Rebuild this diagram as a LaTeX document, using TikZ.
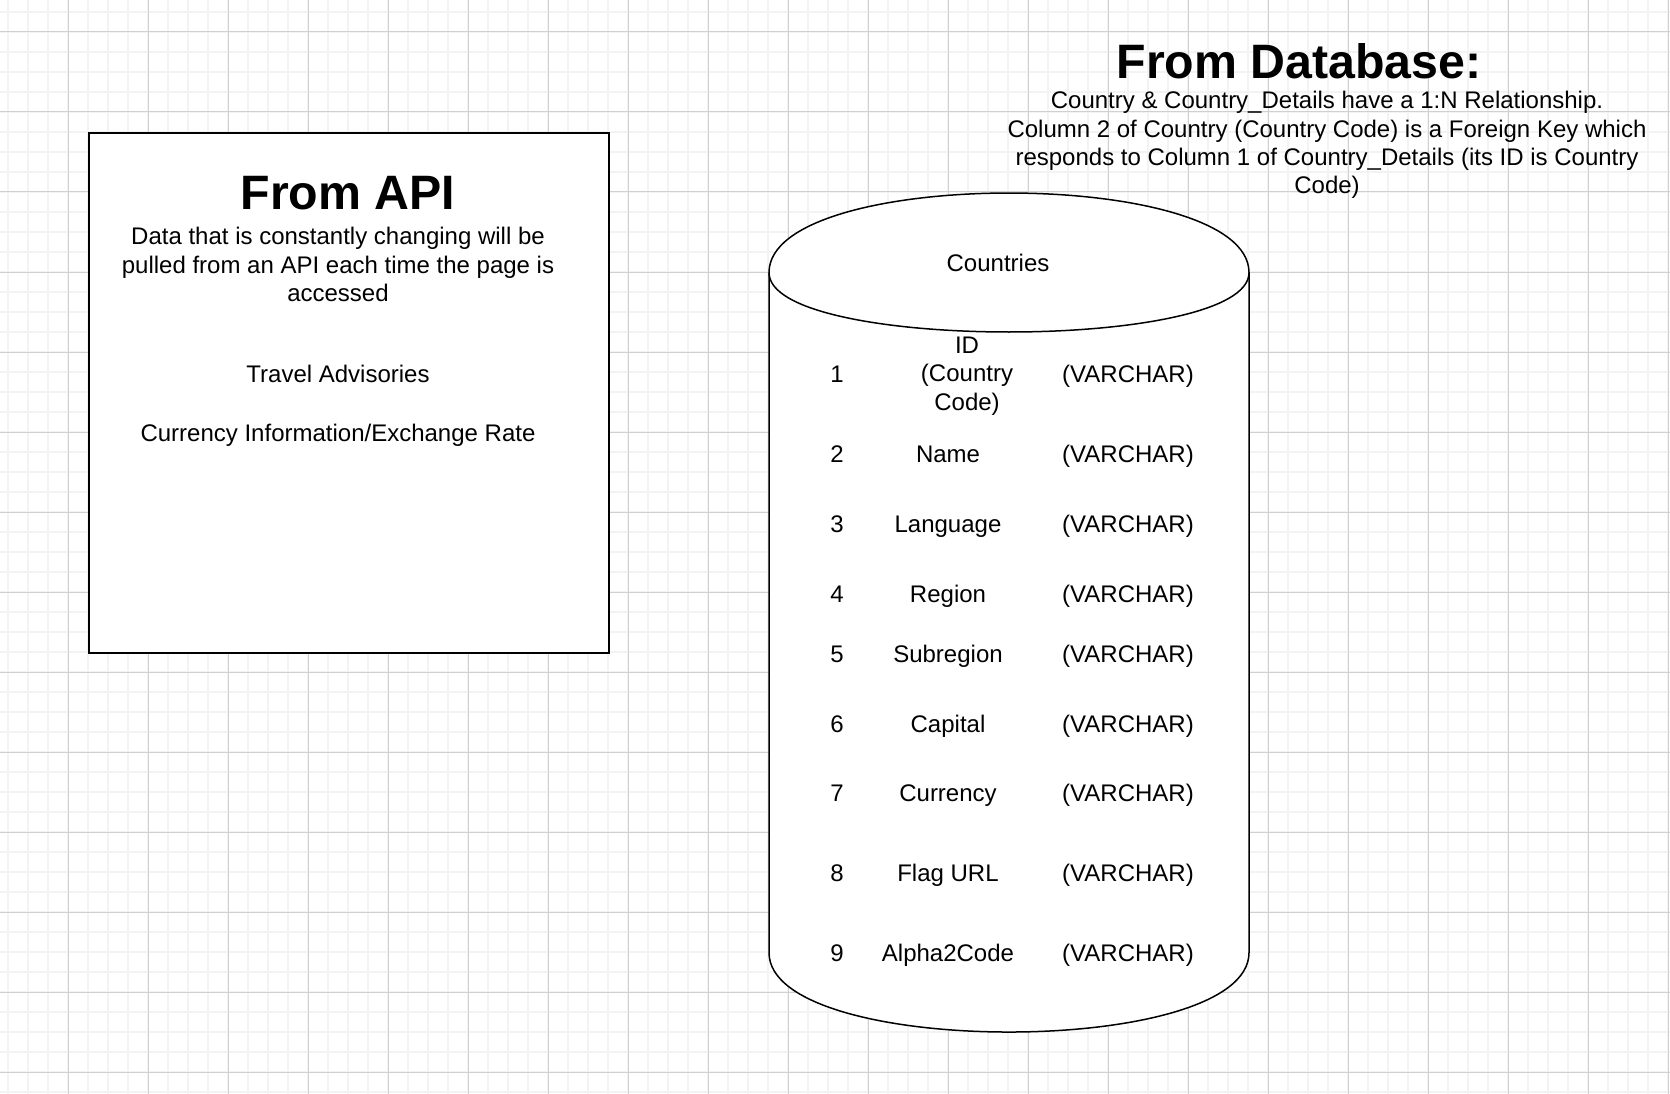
\documentclass[tikz,border=0pt]{standalone}
\usepackage{fontspec}
\setmainfont{Liberation Sans}
\definecolor{gridminor}{RGB}{243,243,243}
\definecolor{gridmajor}{RGB}{208,208,208}
\tikzset{
  txt/.style={inner sep=0pt, outer sep=0pt, anchor=base, font=\fontsize{24}{28.3}\selectfont},
  para/.style={inner sep=0pt, outer sep=0pt, anchor=center, align=center, font=\fontsize{24}{28.3}\selectfont},
  heading/.style={inner sep=0pt, outer sep=0pt, anchor=base, font=\fontsize{48.3}{57}\selectfont\bfseries},
  shapeline/.style={draw=black, line width=1.5pt, fill=white},
}
\begin{document}
\begin{tikzpicture}[x=1pt,y=-1pt]
\useasboundingbox (0,0) rectangle (1670,1094);
\fill[white] (0,0) rectangle (1670,1094);
% grid
\foreach \x in {8,28,...,1668} \draw[gridminor, line width=1.6pt] (\x,0) -- (\x,1094);
\foreach \y in {12,32,...,1092} \draw[gridminor, line width=1.6pt] (0,\y) -- (1670,\y);
\foreach \x in {68,148,...,1668} \draw[gridmajor, line width=1pt] (\x,0) -- (\x,1094);
\foreach \y in {32,112,...,1072} \draw[gridmajor, line width=1pt] (0,\y) -- (1670,\y);

% API box
\draw[shapeline] (89,133) rectangle (609,653);
\node[heading] (apititle) at (348,209.3) {From API};
\node[para] (apidesc) at (338,264.5) {Data that is constantly changing will be\\pulled from an API each time the page is\\accessed};
\node[txt] (travel) at (338,382.6) {Travel Advisories};
\node[txt] (currency) at (338,441.6) {Currency Information/Exchange Rate};

% Database heading
\node[heading] (dbtitle) at (1299,78.3) {From Database:};
\node[para] (dbdesc) at (1327,145) {Country \& Country\_Details have a 1:N Relationship.\\Column 2 of Country (Country Code) is a Foreign Key which\\responds to Column 1 of Country\_Details (its ID is Country\\Code)};

% Cylinder
\draw[shapeline] (769,272.6) .. controls (769,166.5) and (1249,166.5) .. (1249,272.6)
  -- (1249,952.6) .. controls (1249,1058.5) and (769,1058.5) .. (769,952.6) -- cycle;
\draw[black, line width=1.5pt] (769,272.6) .. controls (769,351.8) and (1249,351.8) .. (1249,272.6);
\node[txt] (countries) at (998,271.6) {Countries};

% rows
\node[txt] (n1) at (837,382.6) {1};
\node[para] (f1) at (967,376) {ID\\(Country\\Code)};
\node[txt] (t1) at (1128,382.6) {(VARCHAR)};
\foreach \i/\name/\yy in {2/Name/454,3/Language/524,4/Region/594,5/Subregion/654,6/Capital/724,7/Currency/793,8/Flag URL/873,9/Alpha2Code/953}{
  \node[txt] (n\i) at (837,\yy+8.6) {\i};
  \node[txt] (f\i) at (948,\yy+8.6) {\name};
  \node[txt] (t\i) at (1128,\yy+8.6) {(VARCHAR)};
}
\end{tikzpicture}
\end{document}
